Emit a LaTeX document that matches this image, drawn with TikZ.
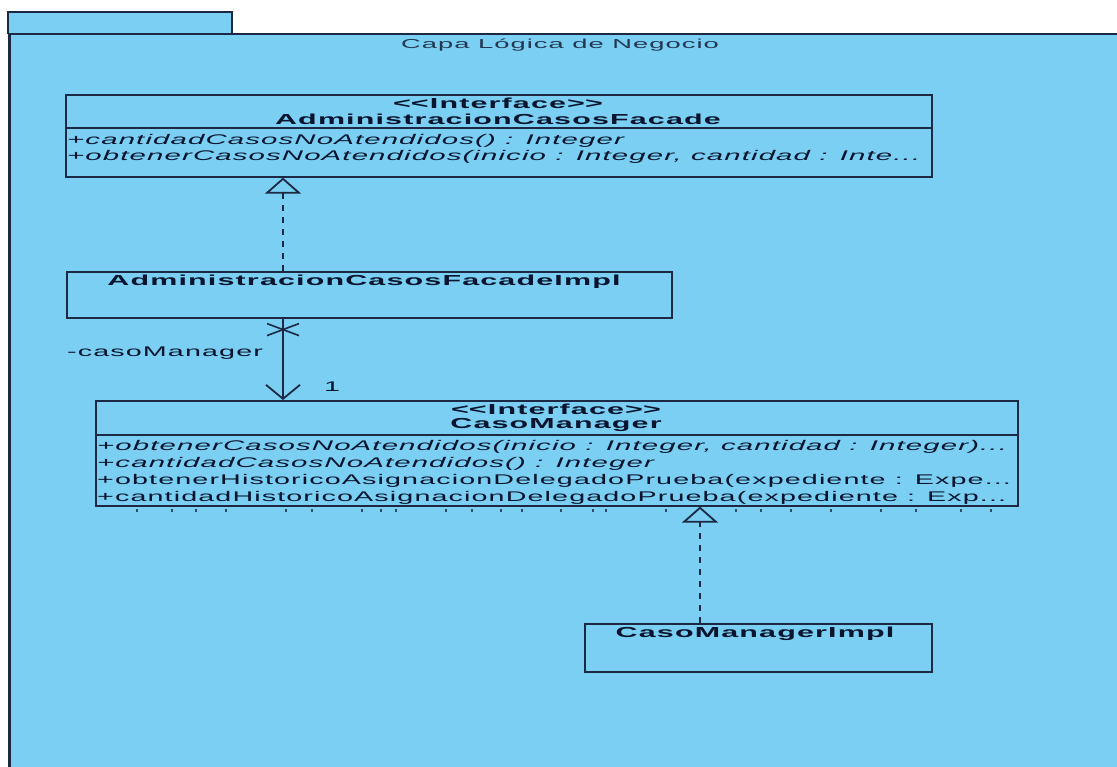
\documentclass[tikz,border=0pt]{standalone}
\usepackage{fontspec}
\setmainfont{Liberation Sans}[FakeStretch=2.1, LetterSpace=8]
\newfontfamily\opfont{Liberation Sans}[FakeStretch=2.05, LetterSpace=8]
\newfontfamily\absfont{Liberation Sans Italic}[FakeStretch=2.1, LetterSpace=8]
\usetikzlibrary{arrows.meta}

\definecolor{pkgfill}{RGB}{122,207,242}
\definecolor{umlline}{RGB}{28,40,68}
\definecolor{umltext}{RGB}{10,20,46}
\definecolor{pkgtext}{RGB}{36,54,82}

% guillemet-free stereotype brackets
\newcommand{\lstereo}{<\kern0pt<}
\newcommand{\rstereo}{>\kern0pt>}

\tikzset{
  classbox/.style={draw=umlline, line width=1.6pt, rectangle, inner sep=0pt, anchor=north west},
  stereo/.style={font=\fontsize{14.5}{16}\selectfont\bfseries, text=umltext, inner sep=0pt},
  cname/.style={font=\fontsize{14.5}{16}\selectfont\bfseries, text=umltext, inner sep=0pt},
  oper/.style={font=\fontsize{14}{16}\selectfont\opfont, text=umltext, inner sep=0pt, anchor=west},
  absop/.style={oper, font=\fontsize{14}{16}\selectfont\absfont},
  divider/.style={draw=umlline, line width=1.6pt},
  realize/.style={draw=umlline, line width=1.8pt, dash pattern=on 6pt off 6pt,
    -{Triangle[open, width=36pt, length=16pt, line width=1.8pt]}},
  assoc/.style={draw=umlline, line width=1.8pt, -{Straight Barb[length=14pt, width=34pt, line width=1.8pt]}},
  plain/.style={font=\fontsize{14}{16}\selectfont\opfont, text=umltext, inner sep=0pt},
  tick/.style={draw=umlline!80!pkgfill, line width=1.1pt}
}

\begin{document}
\begin{tikzpicture}[x=1pt, y=-1pt]
\useasboundingbox (0,0) rectangle (1117,767);
\fill[white] (0,0) rectangle (1117,767);

% package body and tab
\fill[pkgfill] (8,34) rectangle (1130,780);
\fill[pkgfill] (8,12) rectangle (232,34);
\draw[umlline, line width=1.4pt] (8,34) -- (8,12) -- (232,12) -- (232,34);
\draw[umlline, line width=1.4pt] (8,34) -- (1130,34);
\draw[umlline, line width=3pt] (9,34) -- (9,780);
\node[plain, text=pkgtext, font=\fontsize{13}{15}\selectfont] (pkgtitle) at (560,45) {Capa Lógica de Negocio};

% interface AdministracionCasosFacade
\node[classbox, minimum width=866pt, minimum height=82pt] (facade) at (65,94) {};
\draw[divider] ([yshift=-34pt]facade.north west) -- ([yshift=-34pt]facade.north east);
\node[stereo] (facadeSt) at (498,103) {\lstereo Interface\rstereo};
\node[cname] (facadeNm) at (498,119) {AdministracionCasosFacade};
\node[absop] (facadeOp1) at (67,141) {+cantidadCasosNoAtendidos() : Integer};
\node[absop] (facadeOp2) at (67,157) {+obtenerCasosNoAtendidos(inicio : Integer, cantidad : Inte...};

% AdministracionCasosFacadeImpl
\node[classbox, minimum width=605pt, minimum height=46pt] (implA) at (66,271) {};
\node[cname] (implANm) at (364,282) {AdministracionCasosFacadeImpl};

% interface CasoManager
\node[classbox, minimum width=922pt, minimum height=105pt] (mgr) at (95,400) {};
\draw[divider] ([yshift=-35pt]mgr.north west) -- ([yshift=-35pt]mgr.north east);
\node[stereo] (mgrSt) at (556,409) {\lstereo Interface\rstereo};
\node[cname] (mgrNm) at (556,425) {CasoManager};
\node[absop] (mgrOp1) at (97,447) {+obtenerCasosNoAtendidos(inicio : Integer, cantidad : Integer)...};
\node[absop] (mgrOp2) at (97,464) {+cantidadCasosNoAtendidos() : Integer};
\node[oper] (mgrOp3) at (97,481) {+obtenerHistoricoAsignacionDelegadoPrueba(expediente : Expe...};
\node[oper] (mgrOp4) at (97,498) {+cantidadHistoricoAsignacionDelegadoPrueba(expediente : Exp...};
% tops of the next, hidden operation row peeking under the box edge
\foreach \tx in {137,172,196,226,286,312,362,381,396,446,472,501,522,561,593,606,666,736,761,791,831,881,916,961,991}
  \draw[tick] (\tx,509) -- (\tx,511.5);

% CasoManagerImpl
\node[classbox, minimum width=347pt, minimum height=48pt] (implB) at (584,623) {};
\node[cname] (implBNm) at (755,634) {CasoManagerImpl};

% connectors
\coordinate (col1) at (283,0);
\coordinate (col2) at (700,0);
\draw[realize] (col1 |- implA.north) -- (col1 |- facade.south);
\draw[assoc] (col1 |- implA.south) -- (col1 |- mgr.north);
\coordinate (xm) at (col1 |- implA.south);
\draw[umlline, line width=1.6pt] ([shift={(-16,5)}]xm) -- ([shift={(16,17)}]xm);
\draw[umlline, line width=1.6pt] ([shift={(-16,17)}]xm) -- ([shift={(16,5)}]xm);
\node[plain, anchor=west] (role) at (67,353) {-casoManager};
\node[plain] (mult) at (332,387) {1};
\draw[realize] (col2 |- implB.north) -- (col2 |- mgr.south);
\end{tikzpicture}
\end{document}
